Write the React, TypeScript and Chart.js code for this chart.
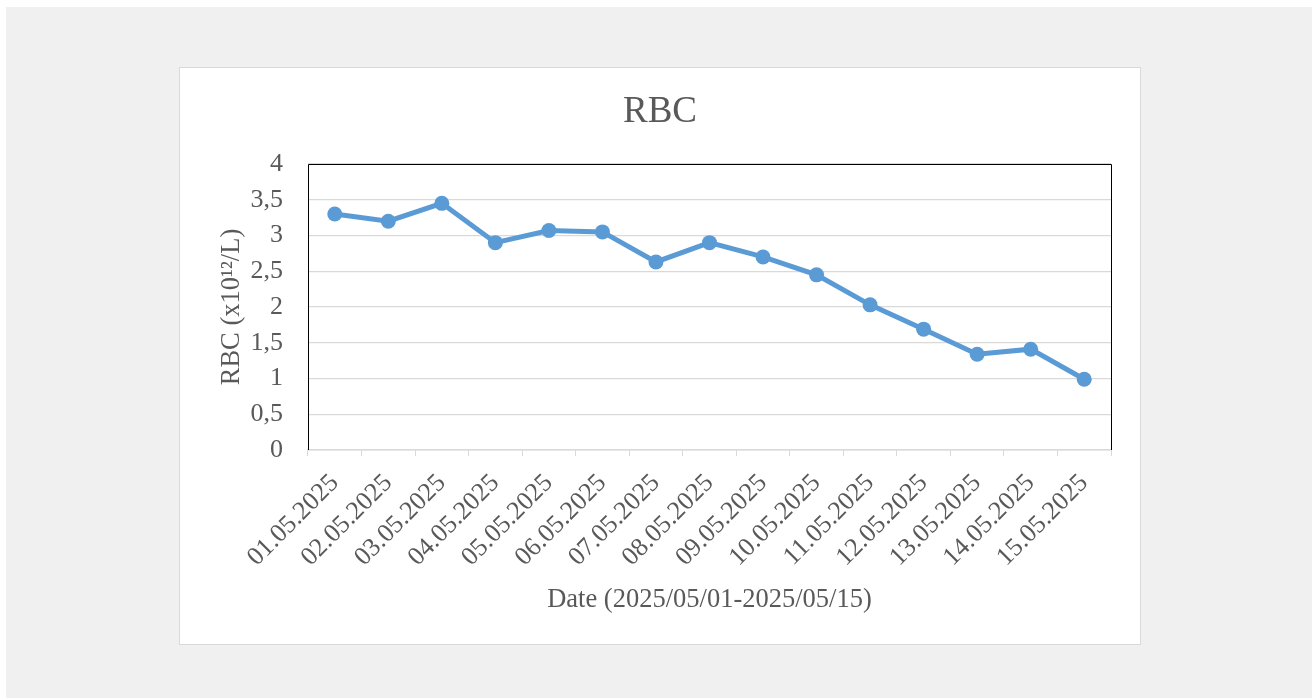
import React, { useEffect, useRef } from "react";
import { Chart, registerables } from "chart.js";

Chart.register(...registerables);

const categories = [
  "01.05.2025", "02.05.2025", "03.05.2025", "04.05.2025", "05.05.2025",
  "06.05.2025", "07.05.2025", "08.05.2025", "09.05.2025", "10.05.2025",
  "11.05.2025", "12.05.2025", "13.05.2025", "14.05.2025", "15.05.2025",
];
const rbcValues = [3.3, 3.2, 3.45, 2.9, 3.07, 3.05, 2.63, 2.9, 2.7, 2.45, 2.03, 1.69, 1.34, 1.41, 0.99];
const yTickLabels = ["0", "0,5", "1", "1,5", "2", "2,5", "3", "3,5", "4"];

const chartTitle = "RBC";
const yAxisTitle = "RBC (x10\u00B9\u00B2/L)";
const xAxisTitle = "Date (2025/05/01-2025/05/15)";

const FONT = "'Liberation Serif', 'Times New Roman', serif";
const TEXT = "#595959";
const GRID = "#d9d9d9";

const frame = {
  id: "frame",
  beforeDatasetsDraw(chart: any) {
    const { ctx, chartArea } = chart;
    const { left, top, right, bottom } = chartArea;
    ctx.save();
    ctx.strokeStyle = "#000000";
    ctx.lineWidth = 1;
    ctx.beginPath();
    ctx.moveTo(Math.round(left) + 0.5, Math.round(bottom));
    ctx.lineTo(Math.round(left) + 0.5, Math.round(top) + 0.5);
    ctx.lineTo(Math.round(right) + 0.5, Math.round(top) + 0.5);
    ctx.lineTo(Math.round(right) + 0.5, Math.round(bottom));
    ctx.stroke();
    ctx.restore();
  },
  afterDraw(chart: any) {
    const { ctx, width } = chart;
    ctx.save();
    ctx.fillStyle = TEXT;
    ctx.font = `37px ${FONT}`;
    ctx.textAlign = "center";
    ctx.textBaseline = "middle";
    ctx.fillText(chartTitle, width / 2, 44);
    ctx.restore();
  },
};

export default function App() {
  const ref = useRef<HTMLCanvasElement | null>(null);

  useEffect(() => {
    if (!ref.current) return;
    const chart = new Chart(ref.current, {
      type: "line",
      data: {
        labels: categories,
        datasets: [
          {
            data: rbcValues,
            borderColor: "#5b9bd5",
            backgroundColor: "#5b9bd5",
            borderWidth: 5,
            pointRadius: 7.5,
            pointHoverRadius: 7.5,
            pointBackgroundColor: "#5b9bd5",
            pointBorderColor: "#5b9bd5",
            pointBorderWidth: 0,
            tension: 0,
          },
        ],
      },
      options: {
        animation: false,
        responsive: false,
        maintainAspectRatio: false,
        layout: { padding: { left: 0, right: 29, top: 96, bottom: 0 } },
        plugins: {
          legend: { display: false },
          tooltip: { enabled: false },
          title: { display: false },
        },
        scales: {
          x: {
            type: "category",
            offset: true,
            grid: {
              display: true,
              offset: true,
              drawOnChartArea: false,
              drawTicks: true,
              tickLength: 6,
              color: GRID,
              lineWidth: 1,
            },
            border: { display: true, color: GRID, width: 1.5 },
            ticks: {
              autoSkip: false,
              minRotation: 45,
              maxRotation: 45,
              color: TEXT,
              padding: 12,
              font: { family: FONT, size: 26 },
            },
            title: {
              display: true,
              text: xAxisTitle,
              color: TEXT,
              font: { family: FONT, size: 26.5 },
              padding: { top: 0, bottom: 28 },
            },
            afterFit(scale: any) {
              scale.height = 194;
            },
          },
          y: {
            min: 0,
            max: 4,
            ticks: {
              stepSize: 0.5,
              color: TEXT,
              padding: 25,
              font: { family: FONT, size: 26 },
              callback: (_v: any, i: number) => yTickLabels[i],
            },
            grid: { color: GRID, lineWidth: 1.3, drawTicks: false },
            border: { display: false },
            title: {
              display: true,
              text: yAxisTitle,
              color: TEXT,
              font: { family: FONT, size: 26.5 },
              padding: { top: 36, bottom: 0 },
            },
            afterFit(scale: any) {
              scale.width = 128;
            },
          },
        },
      },
      plugins: [frame],
    });
    return () => chart.destroy();
  }, []);

  return (
    <div>
      <div
        style={{
          position: "absolute",
          left: 6,
          top: 7,
          width: 1306,
          height: 691,
          background: "#f0f0f0",
        }}
      />
      <div
        style={{
          position: "absolute",
          left: 179,
          top: 67,
          width: 962,
          height: 578,
          boxSizing: "border-box",
          border: "1px solid #d9d9d9",
          background: "#ffffff",
        }}
      />
      <canvas
        ref={ref}
        width={960}
        height={576}
        style={{ position: "absolute", left: 180, top: 68, width: 960, height: 576 }}
      />
    </div>
  );
}
